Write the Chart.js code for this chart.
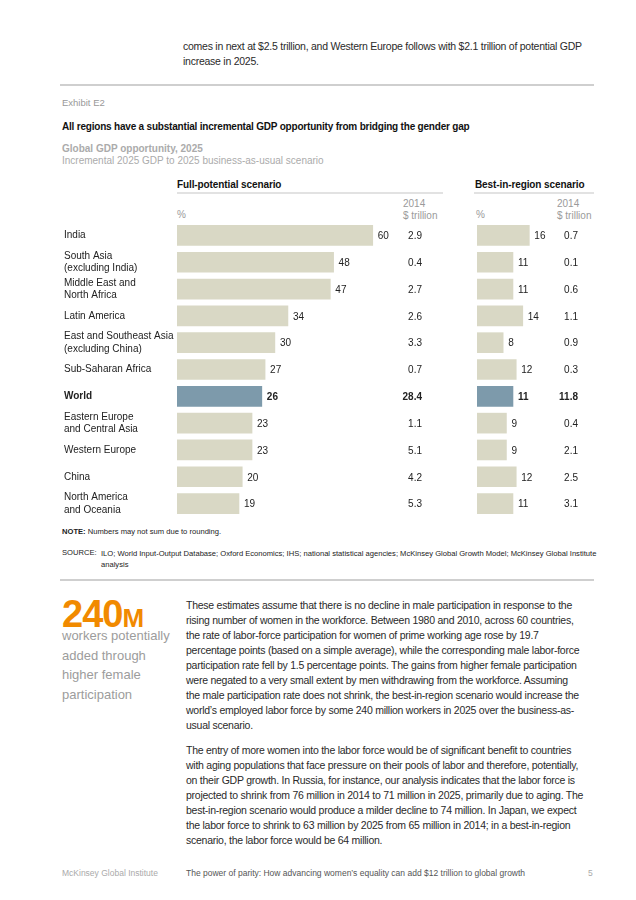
<!DOCTYPE html>
<html>
<head>
<meta charset="utf-8">
<script src="https://cdn.jsdelivr.net/npm/chart.js@4.4.1/dist/chart.umd.min.js"></script>
<style>
body { margin: 0; width: 636px; height: 900px; background: #fff; position: relative; overflow: hidden;
  font-family: "Liberation Sans", Arial, sans-serif; color: #222; }
.t { position: absolute; white-space: nowrap; }
.body { font-size: 10.5px; line-height: 15px; color: #2a2a2a; letter-spacing: -0.25px; }
.rule { position: absolute; height: 2px; background: #cfcfcf; }
.grey { color: #9a9a9a; }
.hdr { font-size: 10px; font-weight: bold; color: #111; letter-spacing: -0.1px; }
.small { font-size: 7.6px; color: #222; }
canvas { position: absolute; }
</style>
</head>
<body>

<div class="t body" style="left:183px; top:39px;">comes in next at $2.5 trillion, and Western Europe follows with $2.1 trillion of potential GDP<br>increase in 2025.</div>
<div class="rule" style="left:60px; top:84px; width:534px;"></div>

<div class="t" style="left:62px; top:97px; font-size:9.5px; color:#999;">Exhibit E2</div>
<div class="t" style="left:62px; top:121px; font-size:10px; font-weight:bold; color:#111; letter-spacing:-0.2px;">All regions have a substantial incremental GDP opportunity from bridging the gender gap</div>
<div class="t" style="left:62px; top:143px; font-size:10px; font-weight:bold; color:#ababab;">Global GDP opportunity, 2025</div>
<div class="t" style="left:62px; top:155px; font-size:10px; color:#ababab;">Incremental 2025 GDP to 2025 business-as-usual scenario</div>

<div class="t hdr" style="left:177px; top:179px;">Full-potential scenario</div>
<div class="rule" style="left:177px; top:192px; width:266px; background:#e2e2e2;"></div>
<div class="t hdr" style="left:475px; top:179px;">Best-in-region scenario</div>
<div class="rule" style="left:474px; top:192px; width:120px; background:#e2e2e2;"></div>

<div class="t grey" style="left:177px; top:209px; font-size:10px;">%</div>
<div class="t grey" style="left:403px; top:198px; font-size:10px; line-height:11.5px;">2014<br>$ trillion</div>
<div class="t grey" style="left:476px; top:209px; font-size:10px;">%</div>
<div class="t grey" style="left:557px; top:198px; font-size:10px; line-height:11.5px;">2014<br>$ trillion</div>

<canvas id="full" width="378" height="295" style="left:60px; top:222px;"></canvas>
<canvas id="best" width="121" height="295" style="left:477px; top:222px;"></canvas>

<div class="t small" style="left:62px; top:527px;"><b>NOTE:</b> Numbers may not sum due to rounding.</div>
<div class="t small" style="left:62px; top:548px;">SOURCE:</div>
<div class="t small" style="left:101px; top:548px; line-height:11px;">ILO; World Input-Output Database; Oxford Economics; IHS; national statistical agencies; McKinsey Global Growth Model; McKinsey Global Institute<br>analysis</div>
<div class="rule" style="left:60px; top:579px; width:534px;"></div>

<div class="t" style="left:62px; top:594px; font-family:'Liberation Sans Narrow', 'Liberation Sans', Arial; font-weight:bold; color:#f18a00; font-size:38px; line-height:40px; letter-spacing:-1px;">240<span style="font-size:26px;">M</span></div>
<div class="t" style="left:62px; top:626px; font-size:13px; line-height:19.5px; color:#9c9c9c;">workers potentially<br>added through<br>higher female<br>participation</div>

<div class="t body" style="left:186px; top:598px;">These estimates assume that there is no decline in male participation in response to the<br>rising number of women in the workforce. Between 1980 and 2010, across 60 countries,<br>the rate of labor-force participation for women of prime working age rose by 19.7<br>percentage points (based on a simple average), while the corresponding male labor-force<br>participation rate fell by 1.5 percentage points. The gains from higher female participation<br>were negated to a very small extent by men withdrawing from the workforce. Assuming<br>the male participation rate does not shrink, the best-in-region scenario would increase the<br>world’s employed labor force by some 240 million workers in 2025 over the business-as-<br>usual scenario.</div>

<div class="t body" style="left:186px; top:743px;">The entry of more women into the labor force would be of significant benefit to countries<br>with aging populations that face pressure on their pools of labor and therefore, potentially,<br>on their GDP growth. In Russia, for instance, our analysis indicates that the labor force is<br>projected to shrink from 76 million in 2014 to 71 million in 2025, primarily due to aging. The<br>best-in-region scenario would produce a milder decline to 74 million. In Japan, we expect<br>the labor force to shrink to 63 million by 2025 from 65 million in 2014; in a best-in-region<br>scenario, the labor force would be 64 million.</div>

<div class="t" style="left:62px; top:868px; font-size:8.5px; color:#aaa;">McKinsey Global Institute</div>
<div class="t" style="left:186px; top:868px; font-size:8.5px; color:#555;">The power of parity: How advancing women’s equality can add $12 trillion to global growth</div>
<div class="t" style="left:588px; top:868px; font-size:8.5px; color:#aaa;">5</div>

<script>
// regions, top to bottom
const regions = [
    ['India'],
    ['South Asia', '(excluding India)'],
    ['Middle East and', 'North Africa'],
    ['Latin America'],
    ['East and Southeast Asia', '(excluding China)'],
    ['Sub-Saharan Africa'],
    ['World'],
    ['Eastern Europe', 'and Central Asia'],
    ['Western Europe'],
    ['China'],
    ['North America', 'and Oceania']
];
const fullPct = [60, 48, 47, 34, 30, 27, 26, 23, 23, 20, 19];
const fullGdp = [2.9, 0.4, 2.7, 2.6, 3.3, 0.7, 28.4, 1.1, 5.1, 4.2, 5.3];
const bestPct = [16, 11, 11, 14, 8, 12, 11, 9, 9, 12, 11];
const bestGdp = [0.7, 0.1, 0.6, 1.1, 0.9, 0.3, 11.8, 0.4, 2.1, 2.5, 3.1];
const worldIndex = 6;

const FONT = '"Liberation Sans", Arial, sans-serif';
const beige = '#d9d8c5';
const slate = '#7d9aab';

// value label next to each bar + the $ trillion column on the right
const valueLabels = {
    id: 'valueLabels',
    afterDatasetsDraw(chart, args, opts) {
        const ctx = chart.ctx;
        const bars = chart.getDatasetMeta(0).data;
        const vals = chart.data.datasets[0].data;
        ctx.save();
        ctx.textBaseline = 'middle';
        ctx.fillStyle = '#222';
        bars.forEach((bar, i) => {
            ctx.font = (i === worldIndex ? 'bold ' : '') + '10px ' + FONT;
            ctx.textAlign = 'left';
            ctx.fillText(vals[i], bar.x + 5, bar.y + 1);
            ctx.textAlign = 'right';
            ctx.fillText(opts.gdp[i].toFixed(1), chart.chartArea.right - opts.inset, bar.y + 1);
        });
        ctx.restore();
    }
};

function makeChart(id, values, gdp, max, showRegions, inset) {
    return new Chart(document.getElementById(id), {
        type: 'bar',
        data: {
            labels: regions,
            datasets: [{
                data: values,
                backgroundColor: values.map((v, i) => i === worldIndex ? slate : beige),
                barThickness: 20,
                borderWidth: 0
            }]
        },
        options: {
            indexAxis: 'y',
            responsive: false,
            animation: false,
            layout: { padding: { left: showRegions ? 4 : 0, right: 0, top: 0, bottom: 0 } },
            plugins: {
                legend: { display: false },
                tooltip: { enabled: false },
                valueLabels: { gdp: gdp, inset: inset }
            },
            scales: {
                x: { display: false, min: 0, max: max },
                y: {
                    display: showRegions,
                    grid: { display: false },
                    border: { display: false },
                    afterFit: scale => {
                        scale.width = showRegions ? 113 : 0;
                        scale.paddingTop = 0;
                        scale.paddingBottom = 0;
                    },
                    ticks: {
                        autoSkip: false,
                        crossAlign: 'far',
                        padding: 0,
                        color: '#222',
                        font: c => ({
                            family: FONT,
                            size: 10,
                            lineHeight: 1.25,
                            weight: c.index === worldIndex ? 'bold' : 'normal'
                        })
                    }
                }
            }
        },
        plugins: [valueLabels]
    });
}

makeChart('full', fullPct, fullGdp, 80, true, 16);
makeChart('best', bestPct, bestGdp, 37, false, 20);
</script>
</body>
</html>
